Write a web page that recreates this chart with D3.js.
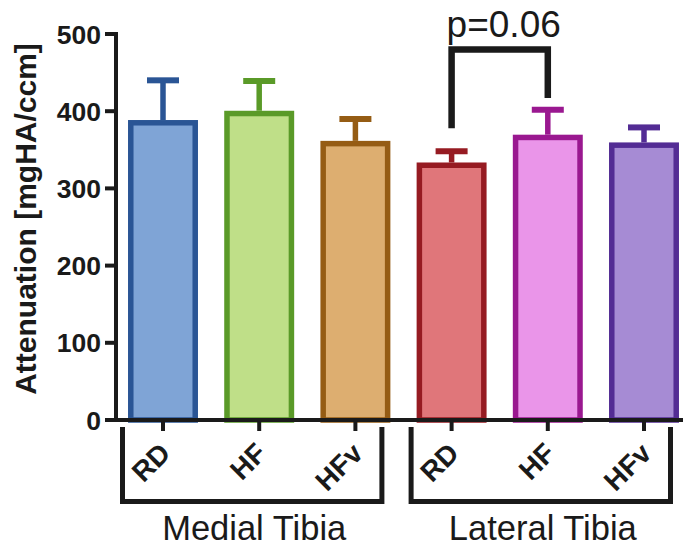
<!DOCTYPE html>
<html>
<head>
<meta charset="utf-8">
<script src="https://cdn.jsdelivr.net/npm/d3@7"></script>
<style>
  html, body { margin: 0; padding: 0; background: #fff; }
  svg { display: block; }
  text { font-family: "Liberation Sans", Arial, Helvetica, sans-serif; fill: #1a1a1a; }
</style>
</head>
<body>
<svg id="chart" width="689" height="548"></svg>
<script>
// ---- data ----
const groups = ["Medial Tibia", "Lateral Tibia"];
const diets = ["RD", "HF", "HFv"];
const means = [385, 397, 358, 330, 366, 356];
const sems = [55, 42, 32, 18, 36, 23];
const fills = ["#7fa4d6", "#bfdf88", "#ddae70", "#e0767a", "#ea95e9", "#a68bd4"];
const strokes = ["#2a5595", "#5a9a28", "#955c14", "#961b22", "#9a1890", "#532c94"];
const yTicks = [0, 100, 200, 300, 400, 500];
const pLabel = "p=0.06";
const pPair = [3, 4];

// ---- build ----
const keys = [];
groups.forEach((g, gi) => diets.forEach((d, di) => keys.push({ id: gi * 3 + di, group: g, diet: d })));

const svg = d3.select("#chart");
const ink = "#1a1a1a";

const y = d3.scaleLinear().domain([0, 500]).range([420, 34]);
const x = d3.scalePoint().domain(keys.map(k => k.id)).range([163, 644]);
const step = x.step();
const barW = step * 0.67;
const capW = 32;
const sw = 5.5;

// bars
svg.append("g").selectAll("rect").data(keys).join("rect")
  .attr("x", d => x(d.id) - barW / 2)
  .attr("y", d => y(means[d.id]))
  .attr("width", barW)
  .attr("height", d => y(0) - y(means[d.id]))
  .attr("fill", d => fills[d.id])
  .attr("stroke", d => strokes[d.id])
  .attr("stroke-width", sw);

// error bars
const eg = svg.append("g");
keys.forEach(d => {
  const cx = x(d.id);
  const top = y(means[d.id] + sems[d.id]);
  eg.append("line").attr("x1", cx).attr("x2", cx)
    .attr("y1", y(means[d.id]) - sw / 2).attr("y2", top)
    .attr("stroke", strokes[d.id]).attr("stroke-width", 5.5);
  eg.append("line").attr("x1", cx - capW / 2).attr("x2", cx + capW / 2)
    .attr("y1", top).attr("y2", top)
    .attr("stroke", strokes[d.id]).attr("stroke-width", 6);
});

// y axis
const yAxis = svg.append("g");
yAxis.append("line").attr("x1", 116).attr("x2", 116).attr("y1", y(500) - 2).attr("y2", y(0) + 2)
  .attr("stroke", ink).attr("stroke-width", 4);
yTicks.forEach(t => {
  yAxis.append("line").attr("x1", 105).attr("x2", 116).attr("y1", y(t)).attr("y2", y(t))
    .attr("stroke", ink).attr("stroke-width", 4);
  yAxis.append("text").attr("x", 101).attr("y", y(t)).attr("dy", "0.36em")
    .attr("text-anchor", "end").attr("font-size", 26.5).attr("font-weight", "bold").text(t);
});

// y title
svg.append("text")
  .attr("transform", `translate(36,${219}) rotate(-90)`)
  .attr("text-anchor", "middle").attr("font-size", 30).attr("font-weight", "bold")
  .text("Attenuation [mgHA/ccm]");

// x axis
const xAxis = svg.append("g");
xAxis.append("line").attr("x1", 114).attr("x2", 683).attr("y1", y(0)).attr("y2", y(0))
  .attr("stroke", ink).attr("stroke-width", 4);
keys.forEach(d => {
  xAxis.append("line").attr("x1", x(d.id)).attr("x2", x(d.id)).attr("y1", y(0)).attr("y2", y(0) + 11)
    .attr("stroke", ink).attr("stroke-width", 4);
  xAxis.append("text")
    .attr("transform", `translate(${x(d.id) + 9},455) rotate(-45)`)
    .attr("text-anchor", "end").attr("font-size", 28).attr("font-weight", "bold")
    .text(d.diet);
});

// group brackets
groups.forEach((g, gi) => {
  const ids = keys.filter(k => k.group === g).map(k => k.id);
  const left = x(ids[0]) - 40.5;
  const right = x(ids[ids.length - 1]) + 26.5;
  svg.append("path")
    .attr("d", `M${left},427 V501.5 H${right} V427`)
    .attr("fill", "none").attr("stroke", ink).attr("stroke-width", 5);
  svg.append("text").attr("x", (left + right) / 2 + 2).attr("y", 540)
    .attr("text-anchor", "middle").attr("font-size", 34.5).text(g);
});

// significance bracket
const xl = x(pPair[0]), xr = x(pPair[1]);
svg.append("path")
  .attr("d", `M${xl},${y(means[pPair[0]] + sems[pPair[0]] + 30)} V${y(480)} H${xr} V${y(means[pPair[1]] + sems[pPair[1]] + 15)}`)
  .attr("fill", "none").attr("stroke", ink).attr("stroke-width", 6.5);
svg.append("text").attr("x", (xl + xr) / 2 + 4).attr("y", 37)
  .attr("text-anchor", "middle").attr("font-size", 37).text(pLabel);
</script>
</body>
</html>
